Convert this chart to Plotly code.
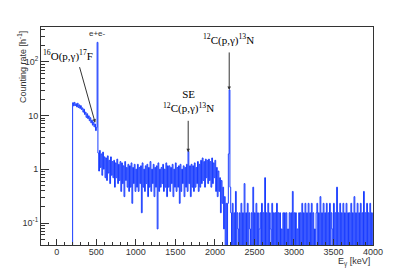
import numpy as np
import plotly.graph_objects as go

# ---------------- data (counts per 10 keV bin) ----------------
BIN_KEV = 10
RATE_PER_COUNT = 0.0775  # h^-1 for one count in a bin

counts_0_190 = [0, 0, 0, 0, 0, 0, 0, 0, 0, 0, 0, 0, 0, 0, 0, 0, 0, 0, 0, 0]
counts_200_500 = [225, 196, 228, 199, 215, 188, 220, 183, 205, 176,
                  198, 168, 180, 150, 170, 136, 150, 120, 140, 114,
                  128, 104, 118, 95, 106, 86, 98, 80, 90, 68, 78]
counts_510 = [3000]
counts_520_2150 = [26, 12, 29, 14, 25, 10, 27, 13, 22, 9,
                   21, 8, 23, 11, 19, 7, 22, 10, 18, 9,
                   19, 6, 17, 9, 20, 7, 16, 8, 18, 5,
                   17, 7, 15, 4, 18, 8, 14, 6, 16, 5,
                   15, 6, 17, 3, 14, 7, 16, 5, 13, 6,
                   16, 5, 14, 7, 15, 2, 17, 6, 13, 5,
                   15, 7, 16, 4, 14, 6, 18, 5, 13, 7,
                   16, 4, 14, 6, 15, 1, 17, 5, 13, 6,
                   14, 7, 16, 5, 13, 6, 17, 4, 15, 6,
                   15, 5, 14, 7, 16, 4, 13, 6, 17, 5,
                   14, 6, 15, 3, 16, 5, 13, 7, 15, 4,
                   14, 6, 16, 5, 28, 7, 15, 4, 16, 6,
                   15, 5, 17, 6, 14, 7, 18, 5, 16, 6,
                   19, 7, 21, 8, 18, 6, 20, 9, 19, 7,
                   20, 8, 18, 6, 21, 7, 17, 9, 19, 5,
                   14, 4, 12, 5, 9, 2, 8, 3, 6, 1,
                   4, 0, 3, 0]
counts_2160_2190 = [3, 25, 390, 6]
counts_2200_4000 = [2, 0, 3, 0, 2, 0, 5, 0, 2, 1,
                    0, 2, 0, 3, 0, 2, 0, 7, 0, 2,
                    0, 3, 0, 2, 1, 0, 2, 0, 6, 0,
                    2, 0, 3, 0, 2, 0, 1, 2, 0, 3,
                    0, 2, 0, 9, 0, 2, 0, 3, 0, 2,
                    1, 0, 3, 0, 2, 0, 2, 0, 3, 0,
                    2, 0, 2, 0, 1, 0, 2, 0, 2, 0,
                    2, 0, 1, 0, 2, 0, 2, 0, 5, 0,
                    2, 0, 2, 0, 1, 0, 2, 0, 2, 0,
                    3, 0, 2, 0, 3, 0, 2, 0, 3, 0,
                    2, 0, 3, 0, 2, 0, 1, 0, 2, 3,
                    0, 2, 0, 4, 0, 2, 0, 3, 0, 2,
                    0, 3, 0, 2, 0, 3, 0, 2, 1, 0,
                    3, 0, 2, 0, 6, 0, 2, 0, 3, 0,
                    2, 0, 3, 0, 2, 0, 3, 0, 2, 0,
                    2, 0, 3, 0, 2, 0, 4, 0, 2, 0,
                    3, 0, 2, 0, 3, 0, 2, 0, 5, 0,
                    2, 0, 3, 0, 2, 0, 3, 0, 2, 0,
                    2]

y_tick_vals = [0.1, 1, 10, 100]
y_tick_text = ["10<sup>-1</sup>", "1", "10", "10<sup>2</sup>"]
x_tick_vals = [0, 500, 1000, 1500, 2000, 2500, 3000, 3500, 4000]
x_tick_text = ["0", "500", "1000", "1500", "2000", "2500", "3000", "3500", "4000"]

# ---------------- build ----------------
counts = np.array(counts_0_190 + counts_200_500 + counts_510 + counts_520_2150
                  + counts_2160_2190 + counts_2200_4000, dtype=float)
energy = np.arange(len(counts)) * BIN_KEV
rate = counts * RATE_PER_COUNT
rate_plot = np.where(counts > 0, rate, 0.03)  # empty bins drop just below the axis

LINE = "rgb(26,61,255)"
AX = "#333333"
SANS = "Liberation Sans, Arial, sans-serif"
SERIF = "Liberation Serif, Times New Roman, serif"

fig = go.Figure()
fig.add_trace(go.Scatter(x=energy, y=rate_plot, mode="lines",
                         line=dict(color=LINE, width=1, shape="hv", simplify=False),
                         hoverinfo="skip", showlegend=False))

minor_y = [m * 10.0 ** e for e in range(-2, 3) for m in range(2, 10)]

fig.update_layout(
    width=415, height=273,
    margin=dict(l=41, r=42, t=27, b=28),
    paper_bgcolor="white", plot_bgcolor="white",
    font=dict(family=SANS, size=9, color=AX),
    xaxis=dict(range=[-200, 4000], showgrid=False, zeroline=False,
               showline=True, linecolor=AX, linewidth=1, mirror=True,
               ticks="inside", ticklen=6, tickcolor=AX, ticklabelstandoff=-2,
               tickmode="array", tickvals=x_tick_vals, ticktext=x_tick_text,
               tickfont=dict(size=9, family=SANS, color=AX),
               minor=dict(tickmode="array",
                          tickvals=list(range(-100, 4000, 100)),
                          ticks="inside", ticklen=3, tickcolor=AX, showgrid=False)),
    yaxis=dict(type="log", range=[-1.41, 2.652], showgrid=False, zeroline=False,
               showline=True, linecolor=AX, linewidth=1, mirror=True,
               ticks="inside", ticklen=8, tickcolor=AX,
               tickmode="array", tickvals=y_tick_vals, ticktext=y_tick_text,
               tickfont=dict(size=9, family=SANS, color=AX),
               minor=dict(tickmode="array", tickvals=minor_y,
                          ticks="inside", ticklen=4, tickcolor=AX, showgrid=False)),
)

# axis titles
fig.add_annotation(xref="paper", yref="paper", x=-0.057, y=0.817,
                   text="Counting rate [h<sup>-1</sup>]", textangle=-90,
                   showarrow=False, font=dict(family=SANS, size=9, color=AX),
                   xanchor="center", yanchor="middle")
fig.add_annotation(xref="paper", yref="paper", x=0.997, y=-0.078,
                   text="E<sub>γ</sub> [keV]", showarrow=False,
                   font=dict(family=SANS, size=9, color=AX),
                   xanchor="right", yanchor="middle")

# labels
fig.add_annotation(x=510, y=2.54, text="e+e-", showarrow=False,
                   font=dict(family=SANS, size=8, color=AX))
fig.add_annotation(x=143, y=2.13, text="<sup>16</sup>O(p,γ)<sup>17</sup>F",
                   showarrow=False, font=dict(family=SERIF, size=11, color="black"))
fig.add_annotation(x=1662, y=1.266, text="SE<br><sup>12</sup>C(p,γ)<sup>13</sup>N",
                   showarrow=False, font=dict(family=SERIF, size=11, color="black"))
fig.add_annotation(x=2168, y=2.41, text="<sup>12</sup>C(p,γ)<sup>13</sup>N",
                   showarrow=False, font=dict(family=SERIF, size=11, color="black"))

# arrows
arrow = dict(text="", showarrow=True, arrowhead=2, arrowsize=0.7,
             arrowwidth=1, arrowcolor="#333333")
fig.add_annotation(x=485, y=0.870, ax=-16, ay=-57, **arrow)
fig.add_annotation(x=1662, y=0.317, ax=0, ay=-33, **arrow)
fig.add_annotation(x=2181, y=1.479, ax=0, ay=-39, **arrow)

fig.write_html("out.html", config={"displayModeBar": False},
               post_script="document.body.style.margin='0';document.body.style.padding='0';")
